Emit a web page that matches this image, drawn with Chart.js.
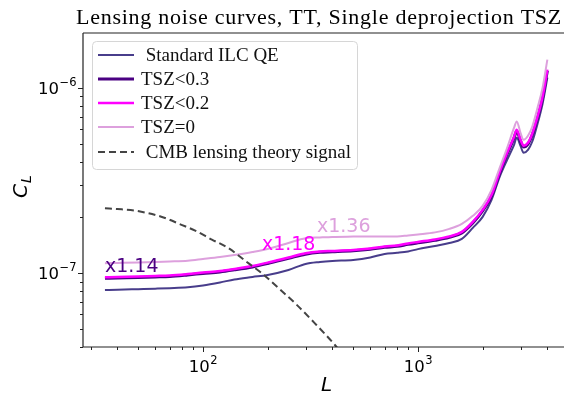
<!DOCTYPE html>
<html>
<head>
<meta charset="utf-8">
<script src="https://cdn.jsdelivr.net/npm/chart.js@4.4.1/dist/chart.umd.min.js"></script>
<style>
html, body { margin: 0; padding: 0; background: #fff; }
#wrap { width: 564px; height: 396px; }
</style>
</head>
<body>
<div id="wrap"><canvas id="noiseChart" width="564" height="396"></canvas></div>
<script>
// Lensing reconstruction noise
const ells = [35, 40, 50, 60, 70, 85, 100, 120, 140, 170, 200, 250, 300, 350, 400, 500, 600, 700, 800, 900,
    1000, 1200, 1400, 1600, 1800, 2000, 2200, 2400, 2600, 2800, 2880, 3000, 3100, 3250, 3400, 3600, 3800, 4000];

const standardQE = [0.812e-7, 0.815e-7, 0.821e-7, 0.826e-7, 0.831e-7, 0.840e-7, 0.859e-7, 0.892e-7, 0.926e-7, 0.955e-7,
    0.979e-7, 1.042e-7, 1.123e-7, 1.151e-7, 1.166e-7, 1.180e-7, 1.217e-7, 1.272e-7, 1.29e-7, 1.312e-7,
    1.35e-7, 1.405e-7, 1.458e-7, 1.532e-7, 1.758e-7, 2.016e-7, 2.49e-7, 3.315e-7, 4.097e-7, 4.937e-7,
    5.387e-7, 4.876e-7, 4.47e-7, 4.64e-7, 5.125e-7, 6.412e-7, 8.226e-7, 11.37e-7];

const tsz03 = [0.940e-7, 0.944e-7, 0.950e-7, 0.956e-7, 0.962e-7, 0.980e-7, 0.998e-7, 1.017e-7, 1.043e-7, 1.082e-7,
    1.128e-7, 1.203e-7, 1.268e-7, 1.297e-7, 1.305e-7, 1.321e-7, 1.346e-7, 1.380e-7, 1.398e-7, 1.432e-7,
    1.459e-7, 1.505e-7, 1.563e-7, 1.652e-7, 1.87e-7, 2.17e-7, 2.61e-7, 3.47e-7, 4.40e-7, 5.37e-7,
    5.86e-7, 5.17e-7, 4.80e-7, 4.98e-7, 5.57e-7, 6.89e-7, 8.84e-7, 12.4e-7];

const tsz02 = [0.951e-7, 0.955e-7, 0.961e-7, 0.967e-7, 0.973e-7, 0.991e-7, 1.010e-7, 1.029e-7, 1.055e-7, 1.095e-7,
    1.141e-7, 1.217e-7, 1.283e-7, 1.312e-7, 1.320e-7, 1.336e-7, 1.362e-7, 1.396e-7, 1.414e-7, 1.449e-7,
    1.476e-7, 1.523e-7, 1.581e-7, 1.672e-7, 1.894e-7, 2.199e-7, 2.650e-7, 3.528e-7, 4.470e-7, 5.455e-7,
    5.952e-7, 5.254e-7, 4.876e-7, 5.061e-7, 5.662e-7, 6.998e-7, 8.974e-7, 12.56e-7];

const tsz0 = [1.133e-7, 1.137e-7, 1.144e-7, 1.151e-7, 1.158e-7, 1.170e-7, 1.195e-7, 1.225e-7, 1.256e-7, 1.303e-7,
    1.353e-7, 1.458e-7, 1.546e-7, 1.561e-7, 1.571e-7, 1.577e-7, 1.581e-7, 1.581e-7, 1.581e-7, 1.601e-7,
    1.621e-7, 1.662e-7, 1.736e-7, 1.847e-7, 2.041e-7, 2.311e-7, 2.820e-7, 3.709e-7, 4.757e-7, 6.102e-7,
    6.600e-7, 5.733e-7, 5.254e-7, 5.522e-7, 6.178e-7, 7.825e-7, 10.04e-7, 14.22e-7];

// theory lensing signal
const theoryElls = [35, 40, 48, 64, 80, 92, 110, 131, 160, 188, 225, 268, 330, 411, 450];
const theoryCl = [2.24e-7, 2.22e-7, 2.18e-7, 2.02e-7, 1.82e-7, 1.70e-7, 1.52e-7, 1.37e-7, 1.15e-7, 1.00e-7,
    0.83e-7, 0.69e-7, 0.54e-7, 0.41e-7, 0.36e-7];

// ratio labels: text, L, C_L of the text anchor
const ratioText = ['x1.14', 'x1.18', 'x1.36'];
const ratioL = [35, 188, 339];
const ratioC = [1.016e-7, 1.336e-7, 1.68e-7];

// axis ticks
const xMajor = [100, 1000];
const xMajorExp = ['2', '3'];
const xMinor = [30, 40, 50, 60, 70, 80, 90, 200, 300, 400, 500, 600, 700, 800, 900, 2000, 3000, 4000];
const yMajor = [1e-7, 1e-6];
const yMajorExp = ['\u22127', '\u22126'];
const yMinor = [4e-8, 5e-8, 6e-8, 7e-8, 8e-8, 9e-8, 2e-7, 3e-7, 4e-7, 5e-7, 6e-7, 7e-7, 8e-7, 9e-7];

function toPoints(xs, ys) {
    return xs.map((x, i) => ({ x: x, y: ys[i] }));
}

const seriesColors = ['#483d8b', '#4b0082', '#ff00ff', '#dda0dd', '#444444'];
const seriesLabels = [' Standard ILC QE', 'TSZ<0.3', 'TSZ<0.2', 'TSZ=0', ' CMB lensing theory signal'];
const ratioColors = ['#4b0082', '#ff00ff', '#dda0dd'];

function drawPow(ctx, exp, x, y, align) {
    ctx.font = '16.5px "DejaVu Sans"';
    const bw = ctx.measureText('10').width;
    ctx.font = '11.5px "DejaVu Sans"';
    const ew = ctx.measureText(exp).width;
    let left = x;
    if (align === 'center') left = x - (bw + ew) / 2;
    if (align === 'right') left = x - bw - ew;
    ctx.textAlign = 'left';
    ctx.textBaseline = 'alphabetic';
    ctx.font = '16.5px "DejaVu Sans"';
    ctx.fillText('10', left, y);
    ctx.font = '11.5px "DejaVu Sans"';
    ctx.fillText(exp, left + bw + 0.5, y - 8);
}

const decorPlugin = {
    id: 'decor',
    afterDatasetsDraw(chart) {
        const ctx = chart.ctx;
        const xs = chart.scales.x, ys = chart.scales.y;
        ctx.save();
        ctx.font = '19px "DejaVu Sans"';
        ctx.textAlign = 'left';
        ctx.textBaseline = 'alphabetic';
        ratioText.forEach((t, i) => {
            ctx.fillStyle = ratioColors[i];
            ctx.fillText(t, xs.getPixelForValue(ratioL[i]), ys.getPixelForValue(ratioC[i]));
        });
        ctx.restore();
    },
    afterDraw(chart) {
        const ctx = chart.ctx;
        const area = chart.chartArea;
        const xs = chart.scales.x, ys = chart.scales.y;
        ctx.save();

        // spines
        ctx.strokeStyle = '#222';
        ctx.lineWidth = 1.2;
        ctx.beginPath();
        ctx.moveTo(area.left, area.top);
        ctx.lineTo(area.right, area.top);
        ctx.moveTo(area.left, area.top);
        ctx.lineTo(area.left, area.bottom);
        ctx.lineTo(area.right, area.bottom);
        ctx.stroke();

        // ticks
        ctx.lineWidth = 1;
        ctx.beginPath();
        xMajor.forEach(v => {
            const px = Math.round(xs.getPixelForValue(v)) + 0.5;
            ctx.moveTo(px, area.bottom); ctx.lineTo(px, area.bottom + 5);
        });
        xMinor.forEach(v => {
            const px = Math.round(xs.getPixelForValue(v)) + 0.5;
            ctx.moveTo(px, area.bottom); ctx.lineTo(px, area.bottom + 3);
        });
        yMajor.forEach(v => {
            const py = Math.round(ys.getPixelForValue(v)) + 0.5;
            ctx.moveTo(area.left, py); ctx.lineTo(area.left - 5, py);
        });
        yMinor.forEach(v => {
            const py = Math.round(ys.getPixelForValue(v)) + 0.5;
            ctx.moveTo(area.left, py); ctx.lineTo(area.left - 3, py);
        });
        ctx.stroke();

        // tick labels
        ctx.fillStyle = '#000';
        xMajor.forEach((v, i) => drawPow(ctx, xMajorExp[i], xs.getPixelForValue(v), area.bottom + 25, 'center'));
        yMajor.forEach((v, i) => drawPow(ctx, yMajorExp[i], area.left - 7, ys.getPixelForValue(v) + 6, 'right'));

        // axis labels
        ctx.font = 'italic 20px "DejaVu Sans"';
        ctx.textAlign = 'center';
        ctx.textBaseline = 'alphabetic';
        ctx.fillText('L', (area.left + area.right) / 2 + 3, 391);
        ctx.save();
        ctx.translate(27, 187);
        ctx.rotate(-Math.PI / 2);
        ctx.textAlign = 'left';
        ctx.font = 'italic 20px "DejaVu Sans"';
        const cw = ctx.measureText('C').width;
        ctx.fillText('C', -cw / 2 - 4, 0);
        ctx.font = 'italic 14px "DejaVu Sans"';
        ctx.fillText('L', cw / 2 - 3, 4);
        ctx.restore();

        // title
        ctx.font = '22px "Liberation Serif"';
        ctx.letterSpacing = '0.75px';
        ctx.textAlign = 'center';
        ctx.fillText('Lensing noise curves, TT, Single deprojection TSZ', 319, 24);
        ctx.letterSpacing = '0px';

        // legend
        const lx = 92, ly = 41, lw = 265, lh = 128;
        ctx.beginPath();
        ctx.roundRect(lx + 0.5, ly + 0.5, lw, lh, 4);
        ctx.fillStyle = 'rgba(255,255,255,0.85)';
        ctx.fill();
        ctx.strokeStyle = '#d6d6d6';
        ctx.lineWidth = 1;
        ctx.stroke();
        const rowY = [55, 79, 103, 127, 152];
        chart.data.datasets.forEach((ds, i) => {
            ctx.beginPath();
            ctx.strokeStyle = ds.borderColor;
            ctx.lineWidth = ds.borderWidth;
            ctx.setLineDash(ds.borderDash || []);
            ctx.moveTo(98, rowY[i]);
            ctx.lineTo(134, rowY[i]);
            ctx.stroke();
            ctx.setLineDash([]);
            ctx.fillStyle = '#111';
            ctx.font = '19px "Liberation Serif"';
            ctx.textAlign = 'left';
            ctx.textBaseline = 'middle';
            ctx.fillText(ds.label, 141, rowY[i] + 1);
        });
        ctx.restore();
    }
};

const ctx = document.getElementById('noiseChart').getContext('2d');
new Chart(ctx, {
    type: 'line',
    data: {
        datasets: [
            { label: seriesLabels[0], data: toPoints(ells, standardQE), borderColor: seriesColors[0], borderWidth: 2, order: 5 },
            { label: seriesLabels[1], data: toPoints(ells, tsz03), borderColor: seriesColors[1], borderWidth: 3, order: 4 },
            { label: seriesLabels[2], data: toPoints(ells, tsz02), borderColor: seriesColors[2], borderWidth: 2.5, order: 3 },
            { label: seriesLabels[3], data: toPoints(ells, tsz0), borderColor: seriesColors[3], borderWidth: 2, order: 2 },
            { label: seriesLabels[4], data: toPoints(theoryElls, theoryCl), borderColor: seriesColors[4], borderWidth: 2, borderDash: [7, 4], order: 1 }
        ]
    },
    options: {
        responsive: false,
        animation: false,
        events: [],
        layout: { padding: { left: 83, right: 0, top: 33, bottom: 49 } },
        elements: {
            point: { radius: 0 },
            line: { cubicInterpolationMode: 'monotone', fill: false }
        },
        plugins: {
            legend: { display: false },
            title: { display: false },
            tooltip: { enabled: false }
        },
        scales: {
            x: { type: 'logarithmic', min: 27.67, max: 4780, display: false },
            y: { type: 'logarithmic', min: 4.0e-8, max: 1.98e-6, display: false }
        }
    },
    plugins: [decorPlugin]
});
</script>
</body>
</html>
